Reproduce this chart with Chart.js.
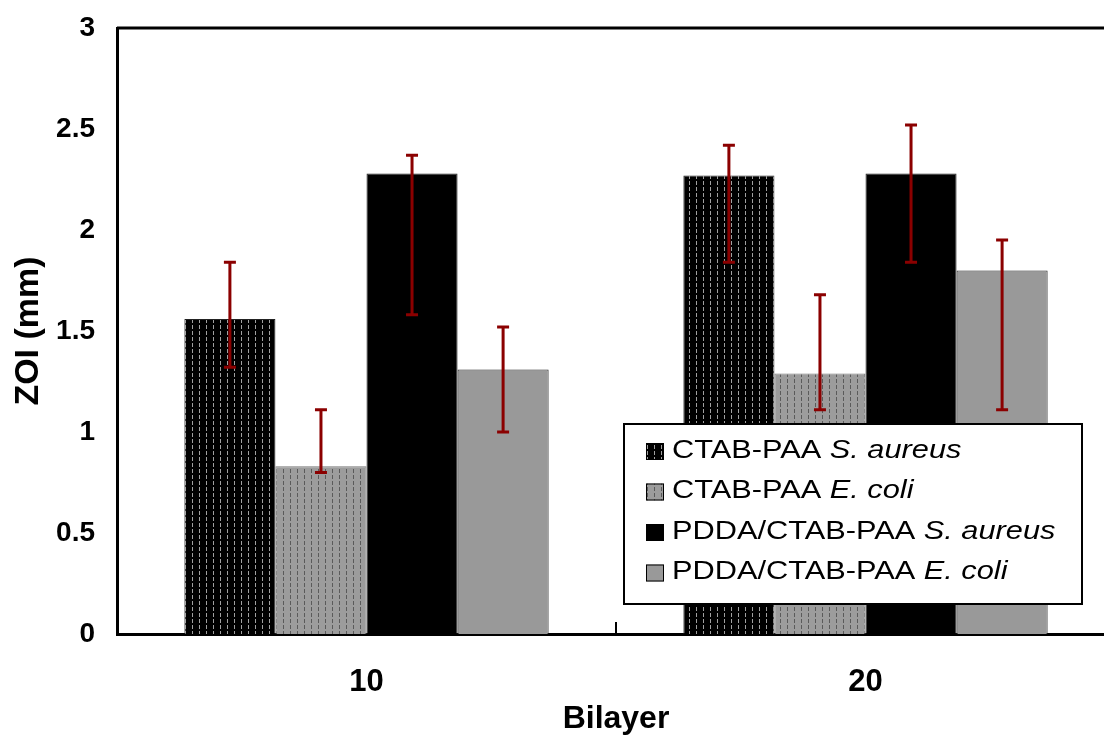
<!DOCTYPE html>
<html>
<head>
<meta charset="utf-8">
<script src="https://cdn.jsdelivr.net/npm/chart.js@4.4.1/dist/chart.umd.min.js"></script>
<style>
  html, body { margin: 0; padding: 0; background: #fff; overflow: hidden; }
</style>
</head>
<body>
<canvas id="zoiChart" width="1120" height="738"></canvas>
<script>
// data
const bilayers = ["10", "20"];
const seriesNames = [
    ["CTAB-PAA ", "S. aureus"],
    ["CTAB-PAA ", "E. coli"],
    ["PDDA/CTAB-PAA ", "S. aureus"],
    ["PDDA/CTAB-PAA ", "E. coli"]
];
const ctabAureus = [1.56, 2.27];
const ctabColi = [0.83, 1.29];
const pddaAureus = [2.28, 2.28];
const pddaColi = [1.31, 1.80];
// error bar ends (upper / lower)
const errHigh = [[1.84, 2.42], [1.11, 1.68], [2.37, 2.52], [1.52, 1.95]];
const errLow = [[1.32, 1.84], [0.80, 1.11], [1.58, 1.84], [1.00, 1.11]];
const yTicks = [0, 0.5, 1, 1.5, 2, 2.5, 3];

function makePattern(bg, fg, w, h) {
    const c = document.createElement("canvas");
    c.width = w; c.height = h;
    const g = c.getContext("2d");
    g.fillStyle = bg;
    g.fillRect(0, 0, w, h);
    g.fillStyle = fg;
    g.fillRect(3, 1, 1, 4);
    return document.getElementById("zoiChart").getContext("2d").createPattern(c, "repeat");
}

const darkDots = makePattern("#000000", "#a0a0a0", 7, 6);
const greyDots = makePattern("#9c9c9c", "#5a5a5a", 7, 6);
const fills = [darkDots, greyDots, "#000000", "#999999"];

const errorBars = {
    id: "errorBars",
    afterDatasetsDraw(chart) {
        const ctx = chart.ctx;
        const y = chart.scales.y;
        ctx.save();
        ctx.strokeStyle = "#8b0000";
        ctx.lineWidth = 3;
        chart.data.datasets.forEach((ds, i) => {
            chart.getDatasetMeta(i).data.forEach((bar, j) => {
                const top = y.getPixelForValue(errHigh[i][j]);
                const bot = y.getPixelForValue(errLow[i][j]);
                ctx.beginPath();
                ctx.moveTo(bar.x, top); ctx.lineTo(bar.x, bot);
                ctx.moveTo(bar.x - 6, top); ctx.lineTo(bar.x + 6, top);
                ctx.moveTo(bar.x - 6, bot); ctx.lineTo(bar.x + 6, bot);
                ctx.stroke();
            });
        });
        ctx.restore();
    }
};

const frameAndLegend = {
    id: "frameAndLegend",
    afterDraw(chart) {
        const ctx = chart.ctx;
        const a = chart.chartArea;
        const x = chart.scales.x;
        ctx.save();
        ctx.strokeStyle = "#000";
        ctx.lineWidth = 3;
        ctx.beginPath();
        ctx.moveTo(a.left, a.top); ctx.lineTo(a.right + 10, a.top);
        ctx.stroke();
        // tick between the two groups
        const mid = (x.getPixelForValue(0) + x.getPixelForValue(1)) / 2;
        ctx.lineWidth = 2;
        ctx.beginPath();
        ctx.moveTo(mid, a.bottom); ctx.lineTo(mid, a.bottom - 12);
        ctx.stroke();

        // legend box
        const lx = 624, ly = 424, lw = 458, lh = 180;
        ctx.fillStyle = "#fff";
        ctx.fillRect(lx, ly, lw, lh);
        ctx.lineWidth = 2;
        ctx.strokeRect(lx, ly, lw, lh);
        ctx.textBaseline = "middle";
        seriesNames.forEach((name, i) => {
            const cy = ly + 27 + i * 40.5;
            ctx.fillStyle = fills[i];
            ctx.fillRect(646, cy - 8, 18, 17);
            ctx.lineWidth = 1;
            ctx.strokeStyle = "#000";
            ctx.strokeRect(646.5, cy - 7.5, 17, 16);
            // the original legend text is set wide, so stretch it a little
            ctx.save();
            ctx.translate(672, cy);
            ctx.scale(1.23, 1);
            ctx.fillStyle = "#000";
            ctx.font = "25px 'Liberation Sans', Arial, sans-serif";
            ctx.fillText(name[0], 0, 0);
            const w = ctx.measureText(name[0]).width;
            ctx.font = "italic 25px 'Liberation Sans', Arial, sans-serif";
            ctx.fillText(name[1], w, 0);
            ctx.restore();
        });
        ctx.restore();
    }
};

new Chart(document.getElementById("zoiChart"), {
    type: "bar",
    data: {
        labels: bilayers,
        datasets: [ctabAureus, ctabColi, pddaAureus, pddaColi].map((vals, i) => ({
            label: seriesNames[i].join(""),
            data: vals,
            backgroundColor: fills[i],
            borderColor: i === 1 ? "#777" : "#222",
            borderWidth: 1,
            categoryPercentage: 0.73,
            barPercentage: 1
        }))
    },
    options: {
        responsive: false,
        animation: false,
        devicePixelRatio: 1,
        layout: { padding: { top: 28, right: 5, left: 0, bottom: 0 } },
        plugins: {
            legend: { display: false },
            tooltip: { enabled: false }
        },
        scales: {
            x: {
                grid: { display: false, drawTicks: false },
                border: { display: true, color: "#000", width: 3 },
                ticks: {
                    color: "#000",
                    padding: 30,
                    font: { family: "'Liberation Sans', Arial, sans-serif", size: 31, weight: "bold" }
                },
                title: {
                    display: true,
                    text: "Bilayer",
                    color: "#000",
                    padding: { top: 0, bottom: 0 },
                    font: { family: "'Liberation Sans', Arial, sans-serif", size: 32, weight: "bold" }
                },
                afterFit(scale) {
                    scale.height = 104;
                    scale.paddingLeft = 0;
                    scale.paddingRight = 0;
                }
            },
            y: {
                min: 0,
                max: 3,
                afterBuildTicks(scale) { scale.ticks = yTicks.map(v => ({ value: v })); },
                grid: { display: false, drawTicks: false },
                border: { display: true, color: "#000", width: 3 },
                ticks: {
                    color: "#000",
                    padding: 22,
                    callback: v => String(v),
                    font: { family: "'Liberation Sans', Arial, sans-serif", size: 28, weight: "bold" }
                },
                title: {
                    display: true,
                    text: "ZOI (mm)",
                    color: "#000",
                    padding: { top: 8, bottom: 0 },
                    font: { family: "'Liberation Sans', Arial, sans-serif", size: 34, weight: "bold" }
                },
                afterFit(scale) {
                    scale.width = 117;
                    scale.paddingTop = 0;
                    scale.paddingBottom = 0;
                }
            }
        }
    },
    plugins: [errorBars, frameAndLegend]
});
</script>
</body>
</html>
